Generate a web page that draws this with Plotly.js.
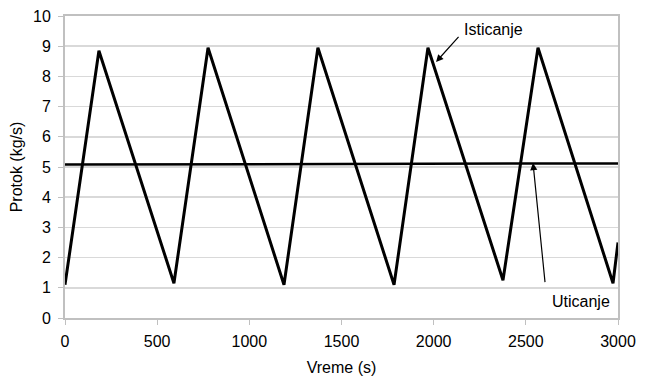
<!DOCTYPE html>
<html><head><meta charset="utf-8">
<script src="https://cdn.plot.ly/plotly-3.0.1.min.js"></script>
<style>body{margin:0;background:#fff}#c{width:648px;height:377px}</style>
</head><body><div id="c"></div>
<script>
// Isticanje (outflow) — turning points
const outTime = [0, 184, 591, 776, 1188, 1372, 1785, 1969, 2376, 2566, 2973, 3000];
const outFlow = [1.1, 8.85, 1.15, 8.95, 1.1, 8.95, 1.1, 8.95, 1.25, 8.95, 1.15, 2.5];
// Uticanje (inflow)
const inTime = [0, 3000];
const inFlow = [5.08, 5.12];
const xTicks = [0, 500, 1000, 1500, 2000, 2500, 3000];
const yTicks = [0, 1, 2, 3, 4, 5, 6, 7, 8, 9, 10];
const labelOut = 'Isticanje';
const labelIn = 'Uticanje';

const font = {family: 'Liberation Sans, Arial, sans-serif', size: 16, color: '#000'};
const data = [
  {x: outTime, y: outFlow, mode: 'lines', line: {color: '#000', width: 3}, hoverinfo: 'skip'},
  {x: inTime, y: inFlow, mode: 'lines', line: {color: '#000', width: 2.5}, hoverinfo: 'skip'}
];
const layout = {
  width: 648, height: 377,
  margin: {l: 65, r: 30, t: 16, b: 59},
  showlegend: false,
  paper_bgcolor: '#fff', plot_bgcolor: '#fff',
  font: font,
  xaxis: {range: [0, 3000], tickvals: xTicks, ticks: 'outside', ticklen: 5, tickcolor: '#c0c0c0',
          ticklabelstandoff: 3,
          showgrid: false, showline: true, linecolor: '#c0c0c0', linewidth: 2, mirror: true, zeroline: false,
          tickfont: font, title: {text: 'Vreme (s)', font: font, standoff: 13}},
  yaxis: {range: [0, 10], tickvals: yTicks, ticks: 'outside', ticklen: 5, tickcolor: '#c0c0c0',
          ticklabelstandoff: 4,
          showgrid: true, gridcolor: '#d9d9d9', gridwidth: 1.5, showline: true, linecolor: '#c0c0c0', linewidth: 2,
          mirror: true, zeroline: false, tickfont: font, title: {text: 'Protok (kg/s)', font: font, standoff: 6}},
  annotations: [
    {x: 2013, y: 8.48, xref: 'x', yref: 'y', text: ' ', showarrow: true, arrowhead: 2, arrowsize: 1.2,
     arrowwidth: 1.2, arrowcolor: '#000', ax: 26, ay: -29, standoff: 0},
    {x: 2327, y: 9.54, xref: 'x', yref: 'y', text: labelOut, showarrow: false, font: font},
    {x: 2539, y: 5.13, xref: 'x', yref: 'y', text: ' ', showarrow: true, arrowhead: 2, arrowsize: 1.2,
     arrowwidth: 1.2, arrowcolor: '#000', ax: 13, ay: 129, standoff: 0},
    {x: 2800, y: 0.56, xref: 'x', yref: 'y', text: labelIn, showarrow: false, font: font}
  ]
};
Plotly.newPlot('c', data, layout, {displayModeBar: false, staticPlot: true});
</script></body></html>
